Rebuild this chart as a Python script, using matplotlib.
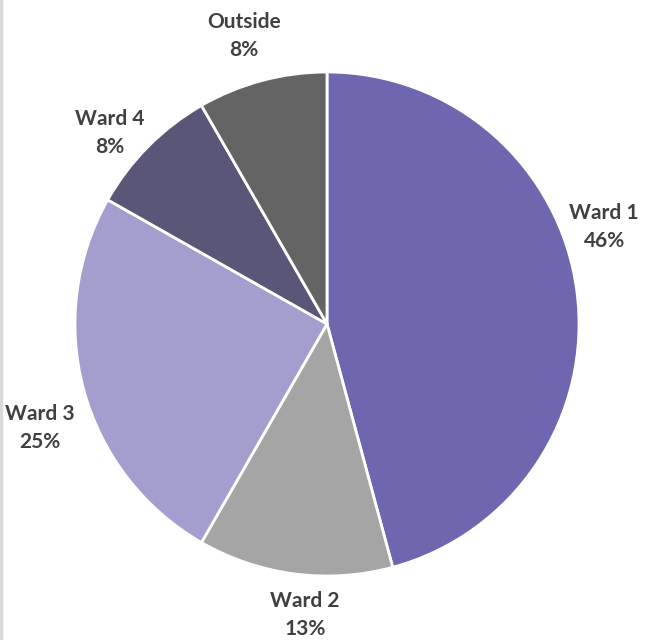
import matplotlib
matplotlib.use("Agg")
import matplotlib.pyplot as plt
from matplotlib.lines import Line2D

labels = ["Ward 1", "Ward 2", "Ward 3", "Ward 4", "Outside"]
shares = [45.8, 12.5, 24.9, 8.5, 8.3]
pct_text = ["46%", "13%", "25%", "8%", "8%"]
colors = ["#6E67B0", "#A5A5A5", "#A39ECE", "#5A5677", "#646464"]
# label centres, in pie-radius units (Excel "best fit" placement)
label_pos = [(1.10, 0.385), (-0.087, -1.155), (-1.139, -0.413), (-0.861, 0.758), (-0.329, 1.143)]

fig = plt.figure(figsize=(6.47, 6.40), dpi=100)
ax = fig.add_axes([0, 0, 1, 1])
ax.pie(shares, colors=colors, startangle=90, counterclock=False, radius=1,
       wedgeprops=dict(edgecolor="white", linewidth=2))
ax.set_xlim(-327 / 252, 320 / 252)
ax.set_ylim(-316 / 252, 324 / 252)
ax.set_aspect("auto")
ax.axis("off")

for name, pct, (x, y) in zip(labels, pct_text, label_pos):
    ax.text(x, y, f"{name}\n{pct}", ha="center", va="center", fontsize=15,
            fontweight="bold", color="#404040", family=["Lato", "DejaVu Sans"],
            linespacing=1.5)

fig.add_artist(Line2D([0.0015, 0.0015], [0, 1], color="#D9D9D9", linewidth=2.5,
                      transform=fig.transFigure))

plt.savefig("out.png", dpi=100)
